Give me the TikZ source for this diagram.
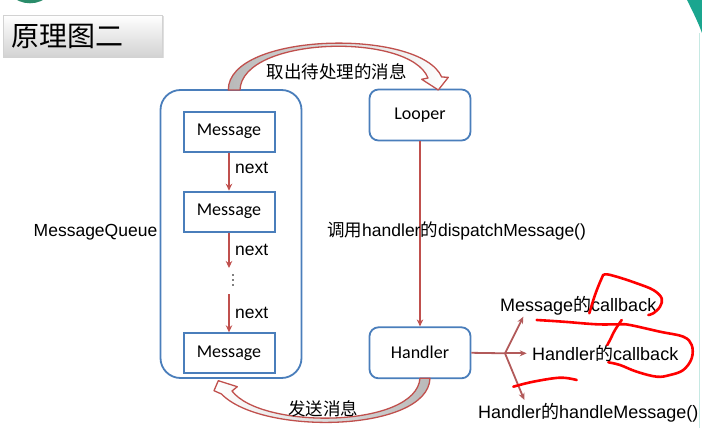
\documentclass[tikz,border=0pt]{standalone}
\usepackage{fontspec}
\setmainfont{Liberation Sans}
\newfontfamily\cjk{Noto Sans CJK SC}
\newfontfamily\cali{Carlito}
\usetikzlibrary{arrows.meta,shadows}
\definecolor{boxblue}{HTML}{4A7EBB}
\definecolor{arrred}{HTML}{C0504D}
\definecolor{forkred}{HTML}{B25A5A}
\definecolor{tealc}{HTML}{1AA68F}
\definecolor{greenc}{HTML}{2A8C6A}
\begin{document}
\begin{tikzpicture}[x=1pt,y=-1pt,
  lbl/.style={font=\fontsize{17.5}{20}\selectfont, inner sep=0pt},
  rlbl/.style={font=\fontsize{18}{21}\selectfont, inner sep=0pt, anchor=west},
  msgbox/.style={draw=boxblue, line width=2pt, minimum width=91pt, minimum height=40pt, font=\cali\fontsize{18}{20}\selectfont, inner sep=0pt},
  rbox/.style={draw=boxblue, line width=1.8pt, rounded corners=9pt, minimum width=101pt, minimum height=51pt, font=\cali\fontsize{18}{20}\selectfont, inner sep=0pt},
  qbox/.style={draw=boxblue, line width=1.8pt, rounded corners=20pt, minimum width=141pt, minimum height=288pt, inner sep=0pt},
  redarr/.style={draw=arrred, line width=1.8pt, -{Stealth[length=7pt,width=6.5pt]}},
  forkline/.style={draw=forkred, line width=1.8pt},
  forkarr/.style={forkline, -{Stealth[length=7pt,width=6pt]}},
  blockarr/.style={draw=arrred, line width=1.3pt, line join=round},
  scrib/.style={draw=red, line width=2.6pt, line cap=round, line join=round}
]
\useasboundingbox (0,0) rectangle (702,428);
\begin{scope}
\clip (0,0) rectangle (702,428);
\fill[greenc] (30,-24) circle (27.3);
\fill[tealc] (687,0) .. controls (693,12) and (698,22) .. (702,33) -- (702,0) -- cycle;
\draw[tealc!25, line width=0.8pt] (699.5,33) -- (699.5,428);
\end{scope}

% title
\node[draw=gray!35, top color=white, bottom color=gray!35, minimum width=159pt, minimum height=42pt,
  drop shadow={opacity=0.25, shadow xshift=1.5pt, shadow yshift=-1.5pt}] (titlebox) at (82.5,36) {};
\node[inner sep=0pt, font=\cjk\fontsize{28}{30}\selectfont] (title) at (68,36) {原理图二};

% message queue
\node[qbox] (queue) at (231,234) {};
\node[msgbox] (m1) at (229,131.7) {Message};
\node[msgbox] (m2) at (229,211.7) {Message};
\node[msgbox] (m3) at (229,353.3) {Message};
\coordinate (d1) at (229,268);
\coordinate (d2) at (229,294);
\draw[redarr] (m1.south) -- (m2.north);
\draw[redarr] (m2.south) -- (d1);
\draw[redarr] (d2) -- (m3.north);
\fill (233,275) circle (0.9) (233,280) circle (0.9) (233,285) circle (0.9);
\node[lbl, anchor=west] (n1) at (235,168) {next};
\node[lbl, anchor=west] (n2) at (235,250) {next};
\node[lbl, anchor=west] (n3) at (235,313) {next};
\node[lbl] (mqlabel) at (95.5,232) {MessageQueue};

% looper / handler
\node[rbox] (looper) at (420,115) {Looper};
\node[rbox] (handler) at (420,352.8) {Handler};
\draw[redarr] (looper.south) -- (handler.north);
\node[lbl, anchor=west] (dispatch) at (327,231) {{\cjk 调用}handler{\cjk 的}dispatchMessage()};

% top block arrow
\path[blockarr, left color=gray!55, right color=white]
  (228.3,90) .. controls (228,32) and (420,28) .. (441.7,77)
  -- (448.3,77.3) -- (438.3,90) -- (421.7,79.3) -- (428,78)
  .. controls (410,32) and (242,36) .. (240,90) -- cycle;
\node[lbl, font=\cjk\fontsize{17.5}{20}\selectfont] (fetch) at (336.5,72) {取出待处理的消息};

% bottom block arrow
\path[blockarr, left color=white, right color=gray!55]
  (430,378.3) .. controls (428,432) and (262,436) .. (221.5,394)
  -- (214,390.7) -- (218.3,380.7) -- (237.3,386.7) -- (232,391)
  .. controls (262,430) and (416,428) .. (420,378.3) -- cycle;
\node[lbl, font=\cjk\fontsize{17.5}{20}\selectfont] (send) at (323,409) {发送消息};

% fork
\coordinate (fk) at (505,353.3);
\coordinate (f1) at (523.3,316.7);
\coordinate (f2) at (526.7,353.3);
\coordinate (f3) at (524.3,400);
\draw[forkline] (handler.east) -- (fk);
\draw[forkarr] (fk) -- (f1);
\draw[forkarr] (fk) -- (f2);
\draw[forkarr] (fk) -- (f3);
\node[rlbl] (cb1) at (500,306) {Message{\cjk 的}callback};
\node[rlbl] (cb2) at (532,353) {Handler{\cjk 的}callback};
\node[rlbl] (hm) at (478,413) {Handler{\cjk 的}handleMessage()};

% scribbles
\draw[scrib] plot[smooth, tension=0.6] coordinates {(589.3,313.3) (595,295) (601.7,278.3) (605,274.3) (616.7,276.7) (636.7,283.3) (653.3,290) (661.7,298.3) (660,306.7) (653.3,313.3) (648.3,315)};
\draw[scrib] plot[smooth, tension=0.6] coordinates {(536.7,320) (563.3,321.7) (596.7,324.3) (620,324.3) (630,325) (660,331.7) (683.3,336.7) (691.7,345) (691.7,358.3) (683.3,370) (670,375) (656.7,376.7) (636.7,371.7) (620,365) (608.3,362.3)};
\draw[scrib] plot[smooth, tension=0.6] coordinates {(621.7,320) (615,330) (610,340) (607.3,345)};
\draw[scrib] plot[smooth, tension=0.6] coordinates {(513.3,386.7) (533.3,381.7) (560,377.7) (576.7,380)};
\end{tikzpicture}
\end{document}
